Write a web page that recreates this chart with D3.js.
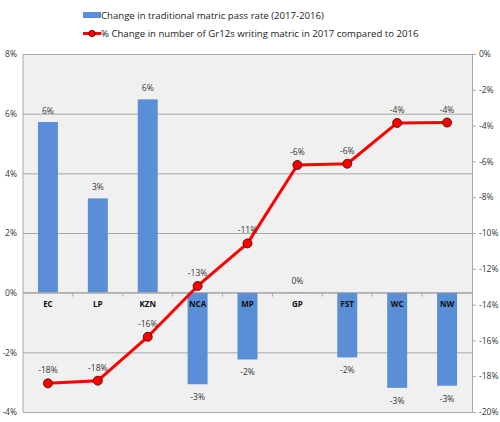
<!DOCTYPE html>
<html>
<head>
<meta charset="utf-8">
<script src="https://cdn.jsdelivr.net/npm/d3@7"></script>
<style>
  body { margin: 0; background: #fff; }
  text { font-family: "Open Sans", "Liberation Sans", sans-serif; }
</style>
</head>
<body>
<div id="chart"></div>
<script>
// provinces
var categories = ["EC", "LP", "KZN", "NCA", "MP", "GP", "FST", "WC", "NW"];
// change in traditional matric pass rate (left axis, %)
var passRateChange = [5.72, 3.16, 6.48, -3.07, -2.24, 0.02, -2.17, -3.19, -3.12];
var passRateLabels = ["6%", "3%", "6%", "-3%", "-2%", "0%", "-2%", "-3%", "-3%"];
// % change in number of Gr12s writing (right axis)
var writersChange = [-18.4, -18.25, -15.8, -12.96, -10.58, -6.2, -6.13, -3.85, -3.83];
var writersLabels = ["-18%", "-18%", "-16%", "-13%", "-11%", "-6%", "-6%", "-4%", "-4%"];
var leftTicks = [8, 6, 4, 2, 0, -2, -4];
var rightTicks = [0, -2, -4, -6, -8, -10, -12, -14, -16, -18, -20];
var legendLabels = ["Change in traditional matric pass rate (2017-2016)",
                    "% Change in number of Gr12s writing matric in 2017 compared to 2016"];

var w = 500, h = 422,
    margin = {top: 54, bottom: 10, left: 23, right: 28};
var width = w - margin.left - margin.right,
    height = h - margin.top - margin.bottom;

var svg = d3.select("#chart").append("svg")
    .attr("width", w)
    .attr("height", h);

var chart = svg.append("g")
    .attr("transform", "translate(" + margin.left + "," + margin.top + ")");

var x = d3.scaleBand().domain(categories).range([0, width]).paddingInner(0.6).paddingOuter(0.3),
    xc = d3.scalePoint().domain(categories).range([0, width]).padding(0.5),
    y = d3.scaleLinear().domain([-4, 8]).range([height, 0]),
    y2 = d3.scaleLinear().domain([-20, 0]).range([height, 0]);

var barColor = "#5a8ed6",
    lineColor = "#ff0000",
    gridColor = "#a8a8a8",
    textColor = "#333";

// plot background
chart.append("rect")
    .attr("width", width)
    .attr("height", height)
    .attr("fill", "#f0f0f0");

// left axis + gridlines
var yAxis = d3.axisLeft(y).tickValues(leftTicks)
    .tickFormat(function (d) { return d + "%"; })
    .tickSize(-width).tickPadding(6);
var gy = chart.append("g").call(yAxis);
gy.select(".domain").remove();
gy.selectAll(".tick line").attr("stroke", gridColor);
gy.selectAll(".tick text").attr("fill", textColor).style("font-size", "8.5px");
chart.append("line")
    .attr("x1", 0).attr("x2", 0).attr("y1", 0).attr("y2", height)
    .attr("stroke", gridColor);

// right axis
var y2Axis = d3.axisRight(y2).tickValues(rightTicks)
    .tickFormat(function (d) { return d + "%"; })
    .tickSize(4).tickPadding(3);
var gy2 = chart.append("g")
    .attr("transform", "translate(" + width + ",0)")
    .call(y2Axis);
gy2.select(".domain").attr("stroke", gridColor);
gy2.selectAll(".tick line").attr("stroke", gridColor);
gy2.selectAll(".tick text").attr("fill", textColor).style("font-size", "8.5px");

// bars
chart.selectAll(".bar")
    .data(passRateChange)
    .enter()
    .append("rect")
    .classed("bar", true)
    .attr("x", function (d, i) { return x(categories[i]); })
    .attr("y", function (d) { return y(Math.max(0, d)); })
    .attr("width", x.bandwidth())
    .attr("height", function (d) { return Math.abs(y(d) - y(0)); })
    .attr("fill", barColor);

// category axis on zero line
var band = width / categories.length;
var gx = chart.append("g").attr("transform", "translate(0," + y(0) + ")");
gx.append("line").attr("x1", 0).attr("x2", width).attr("stroke", gridColor);
gx.selectAll(".cat-tick")
    .data(categories.slice(1))
    .enter()
    .append("line")
    .attr("x1", function (d, i) { return (i + 1) * band; })
    .attr("x2", function (d, i) { return (i + 1) * band; })
    .attr("y1", 0).attr("y2", 4)
    .attr("stroke", gridColor);
gx.selectAll(".cat-label")
    .data(categories)
    .enter()
    .append("text")
    .attr("x", function (d) { return xc(d); })
    .attr("y", 14)
    .attr("text-anchor", "middle")
    .style("font-size", "8px")
    .style("font-weight", "bold")
    .attr("fill", "#111")
    .text(function (d) { return d; });

// bar labels
chart.selectAll(".bar-label")
    .data(passRateChange)
    .enter()
    .append("text")
    .attr("x", function (d, i) { return xc(categories[i]); })
    .attr("y", function (d) { return d >= 0 ? y(d) - 8 : y(d) + 16; })
    .attr("text-anchor", "middle")
    .style("font-size", "8.5px")
    .attr("fill", textColor)
    .text(function (d, i) { return passRateLabels[i]; });

// line
var line = d3.line()
    .x(function (d, i) { return xc(categories[i]); })
    .y(function (d) { return y2(d); });
chart.append("path")
    .datum(writersChange)
    .attr("d", line)
    .attr("fill", "none")
    .attr("stroke", lineColor)
    .attr("stroke-width", 3)
    .attr("stroke-linejoin", "round");
chart.selectAll(".point")
    .data(writersChange)
    .enter()
    .append("circle")
    .classed("point", true)
    .attr("cx", function (d, i) { return xc(categories[i]); })
    .attr("cy", function (d) { return y2(d); })
    .attr("r", 4.5)
    .attr("fill", lineColor)
    .attr("stroke", "#3a0000")
    .attr("stroke-width", 0.8);
chart.selectAll(".point-label")
    .data(writersChange)
    .enter()
    .append("text")
    .attr("x", function (d, i) { return xc(categories[i]); })
    .attr("y", function (d) { return y2(d) - 10; })
    .attr("text-anchor", "middle")
    .style("font-size", "8.5px")
    .attr("fill", textColor)
    .text(function (d, i) { return writersLabels[i]; });

// legend
var legend = svg.append("g").attr("transform", "translate(83,0)");
legend.append("rect")
    .attr("x", 0).attr("y", 12)
    .attr("width", 18).attr("height", 6)
    .attr("fill", barColor);
legend.append("text")
    .attr("x", 18).attr("y", 19)
    .style("font-size", "9.6px")
    .attr("fill", "#222")
    .text(legendLabels[0]);
legend.append("line")
    .attr("x1", 0).attr("x2", 18).attr("y1", 33.5).attr("y2", 33.5)
    .attr("stroke", lineColor).attr("stroke-width", 3);
legend.append("circle")
    .attr("cx", 9).attr("cy", 33.5).attr("r", 3.2)
    .attr("fill", lineColor).attr("stroke", "#3a0000").attr("stroke-width", 0.8);
legend.append("text")
    .attr("x", 18).attr("y", 37)
    .style("font-size", "9.6px")
    .attr("fill", "#222")
    .text(legendLabels[1]);
</script>
</body>
</html>
